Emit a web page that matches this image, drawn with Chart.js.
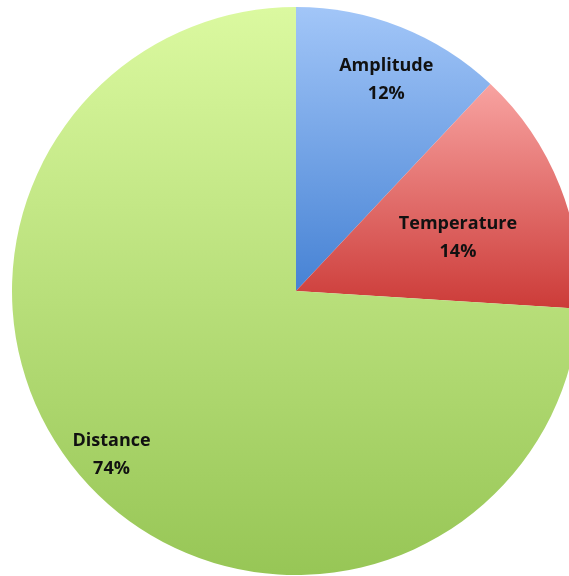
<!DOCTYPE html>
<html>
<head>
<meta charset="utf-8">
<script src="https://cdn.jsdelivr.net/npm/chart.js@4"></script>
<style>
  html, body { margin: 0; padding: 0; background: #fff; overflow: hidden; }
  #wrap { position: absolute; left: 12px; top: 7px; width: 568px; height: 568px; }
</style>
</head>
<body>
<div id="wrap"><canvas id="pie" width="568" height="568"></canvas></div>
<script>
// data
const labels = ['Amplitude', 'Temperature', 'Distance'];
const values = [12, 14, 74];

// gradient stops per slice (top -> bottom)
const topColors = ['#a2c6f8', '#f8a3a1', '#dbf9a0'];
const bottomColors = ['#4682d4', '#cc3b38', '#97c656'];

// where each label sits, as a fraction of the radius (and a small angle nudge in degrees)
const labelRadius = [0.81, 0.60, 0.87];
const labelNudge = [1.5, 3.5, 1.5];

const total = values.reduce((a, b) => a + b, 0);

// vertical extent of a slice, used for its gradient
function sliceYRange(i, cy, r) {
  let start = 0;
  for (let k = 0; k < i; k++) start += values[k];
  const a0 = start / total * 2 * Math.PI;
  const a1 = (start + values[i]) / total * 2 * Math.PI;
  // angle measured clockwise from top; y = cy - r*cos(a)
  const ys = [cy];
  const steps = 60;
  for (let s = 0; s <= steps; s++) {
    const a = a0 + (a1 - a0) * s / steps;
    ys.push(cy - r * Math.cos(a));
  }
  return [Math.min(...ys), Math.max(...ys)];
}

function sliceFill(c) {
  const chart = c.chart;
  const area = chart.chartArea;
  if (!area) return topColors[c.dataIndex];
  const cy = (area.top + area.bottom) / 2;
  const r = Math.min(area.right - area.left, area.bottom - area.top) / 2;
  const [y0, y1] = sliceYRange(c.dataIndex, cy, r);
  const g = chart.ctx.createLinearGradient(0, y0, 0, y1);
  g.addColorStop(0, topColors[c.dataIndex]);
  g.addColorStop(1, bottomColors[c.dataIndex]);
  return g;
}

// labels drawn onto each slice
const sliceLabels = {
  id: 'sliceLabels',
  afterDatasetsDraw(chart) {
    const ctx = chart.ctx;
    const meta = chart.getDatasetMeta(0);
    ctx.save();
    ctx.fillStyle = '#111';
    ctx.font = 'bold 18px "Open Sans", "Liberation Sans", sans-serif';
    ctx.textAlign = 'center';
    ctx.textBaseline = 'middle';
    meta.data.forEach((arc, i) => {
      const p = arc.getProps(['x', 'y', 'startAngle', 'endAngle', 'outerRadius'], true);
      const mid = (p.startAngle + p.endAngle) / 2 + labelNudge[i] * Math.PI / 180;
      const rr = p.outerRadius * labelRadius[i];
      const x = p.x + Math.cos(mid) * rr;
      const y = p.y + Math.sin(mid) * rr;
      const pct = Math.round(values[i] / total * 100) + '%';
      ctx.fillText(labels[i], x, y - 14);
      ctx.fillText(pct, x, y + 14);
    });
    ctx.restore();
  }
};

new Chart(document.getElementById('pie').getContext('2d'), {
  type: 'pie',
  data: {
    labels: labels,
    datasets: [{ data: values, backgroundColor: sliceFill, borderWidth: 0 }]
  },
  options: {
    responsive: false,
    animation: false,
    layout: { padding: 0 },
    plugins: { legend: { display: false }, tooltip: { enabled: false } }
  },
  plugins: [sliceLabels]
});
</script>
</body>
</html>
